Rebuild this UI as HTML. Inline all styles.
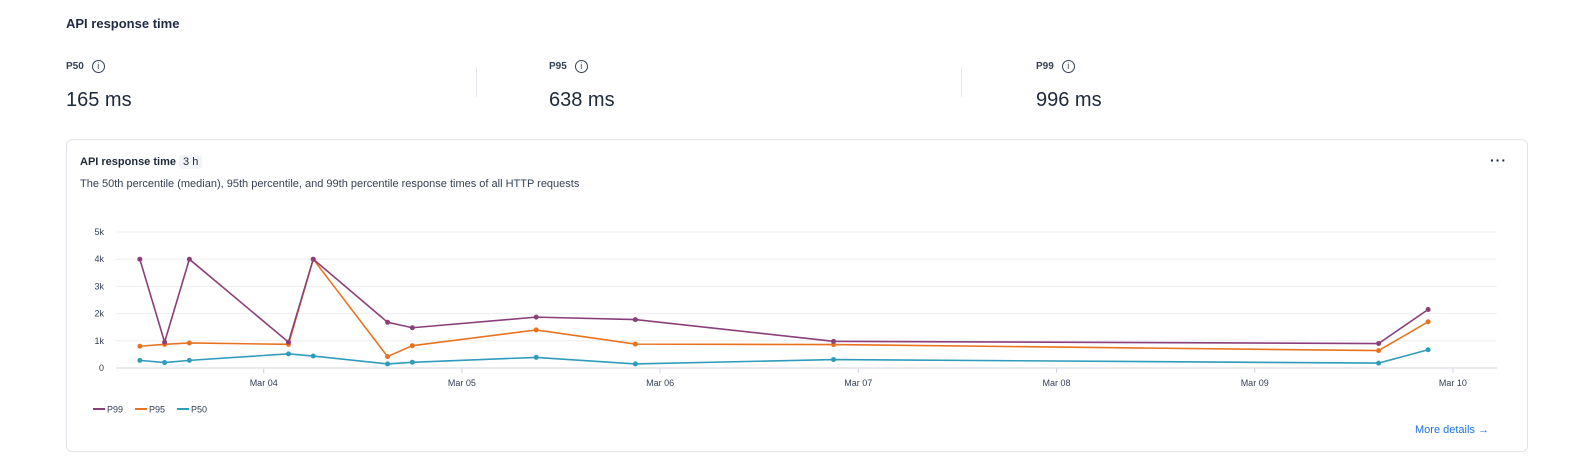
<!DOCTYPE html>
<html><head><meta charset="utf-8">
<style>
body{margin:0;width:1576px;height:472px;background:#fff;font-family:"Liberation Sans",sans-serif;color:#1d2939;position:relative;overflow:hidden}
.abs{position:absolute}
.h{left:66px;top:16px;font-size:13px;font-weight:bold;color:#1f2a44}
.lbl{font-size:10px;font-weight:bold;color:#344054}
.info{display:inline-block;width:11px;height:11px;border:1.3px solid #344054;border-radius:50%;font-size:9px;line-height:11px;text-align:center;margin-left:8px;vertical-align:middle;font-weight:normal}
.val{font-size:20px;color:#1d2939}
.sep{width:1px;height:30px;background:#e4e7ec}
.card{left:66px;top:139px;width:1462px;height:313px;border:1px solid #e0e3e8;border-radius:6px;box-sizing:border-box}
</style></head><body>
<div class="abs h">API response time</div>
<div class="abs lbl" style="left:66px;top:60px">P50<span class="info">i</span></div>
<div class="abs val" style="left:66px;top:89px">165 ms</div>
<div class="abs sep" style="left:476px;top:67px"></div>
<div class="abs lbl" style="left:549px;top:60px">P95<span class="info">i</span></div>
<div class="abs val" style="left:549px;top:89px">638 ms</div>
<div class="abs sep" style="left:961px;top:67px"></div>
<div class="abs lbl" style="left:1036px;top:60px">P99<span class="info">i</span></div>
<div class="abs val" style="left:1036px;top:89px">996 ms</div>
<div class="abs card"></div>
<div class="abs" style="left:80px;top:156px;font-size:11px;font-weight:bold">API response time <span style="font-weight:normal;background:#f2f4f7;padding:1px 4px;border-radius:3px">3 h</span></div>
<div class="abs" style="left:80px;top:178px;font-size:11px;color:#344054">The 50th percentile (median), 95th percentile, and 99th percentile response times of all HTTP requests</div>
<div class="abs" style="left:1490px;top:152px;font-size:14px;font-weight:bold;letter-spacing:1px">···</div>
<div class="abs" style="left:1415px;top:424px;font-size:11px;color:#1a73e8">More details →</div>
<svg class="abs" style="left:0;top:0" width="1576" height="472" id="chart"></svg>
<script>
const hours=[9,12,15,27,30,39,42,57,69,93,159,165];
const p99=[4000,950,4000,950,4000,1680,1480,1870,1780,980,900,2150];
const p95=[800,870,920,870,4000,420,820,1400,880,860,640,1700];
const p50=[280,200,280,520,440,150,210,390,150,310,180,670];
const yTicks=[0,1000,2000,3000,4000,5000];
const yTickLabels=["0","1k","2k","3k","4k","5k"];
const xTicks=[24,48,72,96,120,144,168];
const xTickLabels=["Mar 04","Mar 05","Mar 06","Mar 07","Mar 08","Mar 09","Mar 10"];
const svg=document.getElementById('chart');const NS='http://www.w3.org/2000/svg';
const X=h=>65.5+h*198.2/24;const Y=v=>368-v*27.2/1000;
function mk(t,a){const e=document.createElementNS(NS,t);for(const k in a)e.setAttribute(k,a[k]);svg.appendChild(e);return e;}
yTicks.forEach((v,i)=>{
 const g=mk('line',{x1:116,x2:1497,y1:Y(v),y2:Y(v),stroke:v===0?'#d0d5dd':'#eceef1','stroke-width':1});
 
 
 const t=mk('text',{x:104,y:Y(v)+3,'font-size':9,fill:'#344054','text-anchor':'end','font-family':'Liberation Sans'});t.textContent=yTickLabels[i];
 
 
});
xTicks.forEach((h,i)=>{
 const l=mk('line',{x1:X(h),x2:X(h),y1:368,y2:373,stroke:'#d0d5dd'});
 
 
 const t=mk('text',{x:X(h),y:386,'font-size':9,fill:'#344054','text-anchor':'middle','font-family':'Liberation Sans'});t.textContent=xTickLabels[i];
 
 
});
[[p50,'#2e9cba','p50'],[p95,'#e8731f','p95'],[p99,'#8b3f7a','p99']].forEach(([d,c,n])=>{
 const p=mk('polyline',{points:d.map((v,i)=>X(hours[i])+','+Y(v)).join(' '),fill:'none',stroke:c,'stroke-width':1.6});
 
 
 d.forEach((v,i)=>{const ci=mk('circle',{cx:X(hours[i]),cy:Y(v),r:2.5,fill:c});
  
  });
});
[['P99','#8b3f7a',93],['P95','#e8731f',135],['P50','#2e9cba',177]].forEach(([n,c,x])=>{
 const l=mk('line',{x1:x,x2:x+12,y1:409,y2:409,stroke:c,'stroke-width':2});
 
 
 const t=mk('text',{x:x+14,y:412.5,'font-size':9,fill:'#344054','font-family':'Liberation Sans'});t.textContent=n;
 
 
});
</script>
</body></html>
